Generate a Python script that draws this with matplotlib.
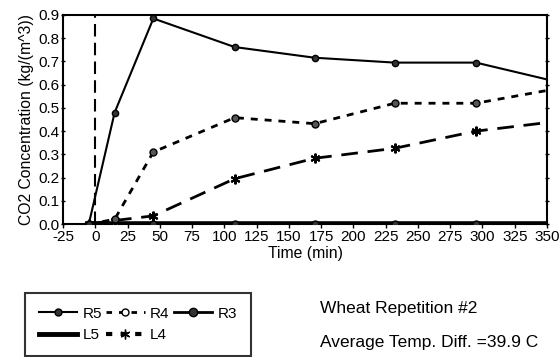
import matplotlib
matplotlib.use("Agg")
import matplotlib.pyplot as plt
from matplotlib.lines import Line2D

plt.rcParams['font.family'] = ['Liberation Sans', 'DejaVu Sans']

# Sampling times (min) and CO2 concentrations (kg/m^3)
time_min = [-5, 15, 45, 108, 170, 232, 295, 358]
r5 = [0.00, 0.48, 0.885, 0.762, 0.716, 0.695, 0.695, 0.612]
r4 = [0.00, 0.02, 0.31, 0.458, 0.432, 0.52, 0.52, 0.583]
r3 = [0.00, 0.00, 0.00, 0.00, 0.00, 0.00, 0.00, 0.00]
l5 = [0.00, 0.00, 0.00, 0.00, 0.00, 0.00, 0.00, 0.00]
l4 = [0.00, 0.015, 0.035, 0.195, 0.283, 0.326, 0.40, 0.442]

x_ticks = list(range(-25, 351, 25))
y_ticks = [0.0, 0.1, 0.2, 0.3, 0.4, 0.5, 0.6, 0.7, 0.8, 0.9]
start_time = 0

fig = plt.figure(figsize=(5.59, 3.57), dpi=100)
ax = fig.add_axes([63 / 559, 1 - 224 / 357, 484 / 559, 209 / 357])

ax.plot(time_min, l5, color='black', lw=4.0, solid_capstyle='butt', zorder=3)
ax.plot(time_min, r3, color='black', lw=3.0, marker='o', ms=5,
        markerfacecolor='#333333', markeredgecolor='black', zorder=3)
ax.plot(time_min, l4, color='black', lw=2.0, dashes=(6, 3.5), marker=(6, 2, 0),
        ms=7, markeredgewidth=1.5, zorder=4)
ax.plot(time_min, r4, color='black', lw=2.0, dashes=(2.5, 2.5), marker='o', ms=5,
        markerfacecolor='#555555', markeredgecolor='black', zorder=4)
ax.plot(time_min, r5, color='black', lw=1.5, marker='o', ms=4.5,
        markerfacecolor='#333333', markeredgecolor='black', zorder=5)

ax.axvline(start_time, color='black', lw=1.5, dashes=(6, 3), zorder=2)

ax.set_xlim(-25, 350)
ax.set_ylim(0.0, 0.9)
ax.set_xticks(x_ticks)
ax.set_xticklabels([str(t) for t in x_ticks])
ax.set_yticks(y_ticks)
ax.set_yticklabels([f'{v:.1f}' for v in y_ticks])
ax.tick_params(axis='both', labelsize=11, direction='out', length=3, width=1,
               pad=1, colors='black')
ax.tick_params(axis='y', right=True, direction='inout')
for s in ax.spines.values():
    s.set_linewidth(1.5)

ax.set_xlabel('Time (min)', fontsize=11.3, labelpad=2)
ax.set_ylabel('CO2 Concentration (kg/(m^3))', fontsize=11.3, labelpad=3)

handles = [
    Line2D([], [], color='black', lw=1.5, marker='o', ms=5, markerfacecolor='#333333'),
    Line2D([], [], color='black', lw=3.5),
    Line2D([], [], color='black', lw=2.0, dashes=(2.0, 2.5), marker='o', ms=5,
           markerfacecolor='white'),
    Line2D([], [], color='black', lw=3.0, dashes=(1.5, 2.0), marker=(6, 2, 0), ms=7),
    Line2D([], [], color='black', lw=2.0, marker='o', ms=6, markerfacecolor='#333333'),
]
labels = ['R5', 'L5', 'R4', 'L4', 'R3']
leg = fig.legend(handles, labels, loc='lower left', bbox_to_anchor=(25 / 559, 1 / 357),
                 borderaxespad=0, ncol=3, fontsize=11, frameon=True, fancybox=False,
                 edgecolor='black', handlelength=2.5, handletextpad=0.35,
                 columnspacing=0.3, labelspacing=0.5, borderpad=0.9)
leg.get_frame().set_linewidth(1.5)

fig.text(320 / 559, 1 - 308 / 357, 'Wheat Repetition #2', fontsize=12.5, va='center')
fig.text(320 / 559, 1 - 342 / 357, 'Average Temp. Diff. =39.9 C', fontsize=12.5,
         va='center')

fig.savefig('out.png', dpi=100)
